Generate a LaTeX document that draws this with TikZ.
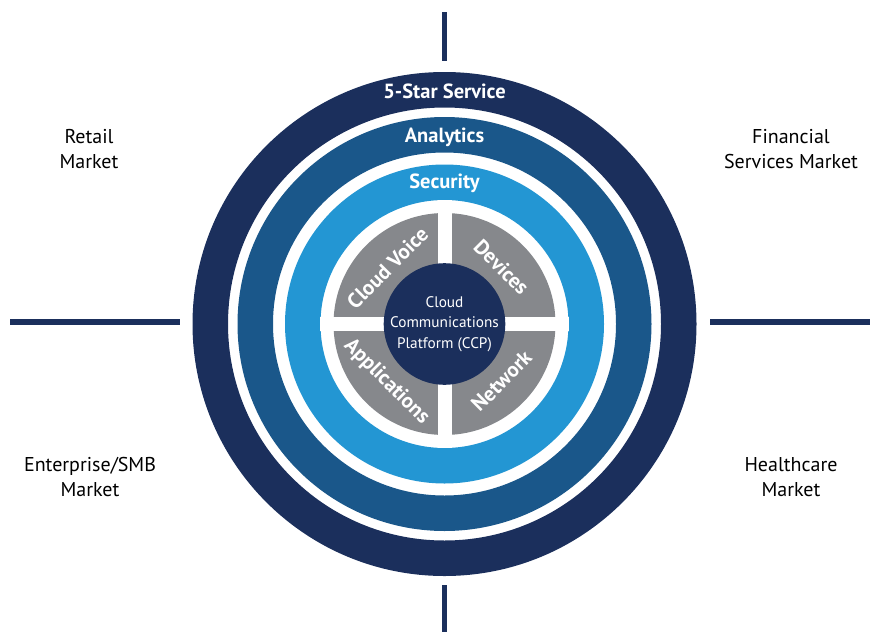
\documentclass[tikz,border=0pt]{standalone}
\usepackage{fontspec}
\setmainfont{PT Sans}
\definecolor{navy}{HTML}{1B2F5C}
\definecolor{analyticsblue}{HTML}{1A578A}
\definecolor{securityblue}{HTML}{2396D3}
\definecolor{quadgrey}{HTML}{86888C}
\tikzset{
  ringlabel/.style={text=white, font=\bfseries\fontsize{20.5}{22}\selectfont},
  quadlabel/.style={text=white, inner sep=1pt, font=\bfseries\fontsize{21}{22}\selectfont},
  marketlabel/.style={align=center, font=\fontsize{20}{24.5}\selectfont},
  divider/.style={navy, line width=5.5pt},
}
\begin{document}
\begin{tikzpicture}[x=1pt, y=-1pt]
    \useasboundingbox (0,0) rectangle (870,632);
    \coordinate (c) at (444.5,324);

    % rings
    \fill[navy, even odd rule] (c) circle (252pt) circle (216.5pt);
    \fill[analyticsblue, even odd rule] (c) circle (207pt) circle (171.5pt);
    \fill[securityblue, even odd rule] (c) circle (159.5pt) circle (124pt);
    \node[ringlabel] (star) at (444.5,91) {5-Star Service};
    \node[ringlabel] (analytics) at (444.5,137) {Analytics};
    \node[ringlabel] (security) at (444.5,183) {Security};

    % quadrants
    \fill[quadgrey] (c) circle (111pt);
    \fill[white] (437.5,200) rectangle (451.5,448);
    \fill[white] (320,317) rectangle (569,331);
    \node[quadlabel, rotate=45] (voice) at ([shift={(-57,-56)}]c) {Cloud Voice};
    \node[quadlabel, rotate=-45] (devices) at ([shift={(57,-57)}]c) {Devices};
    \node[quadlabel, rotate=-45] (apps) at ([shift={(-58,58)}]c) {Applications};
    \node[quadlabel, rotate=45] (network) at ([shift={(57,57)}]c) {Network};
    \node[circle, fill=navy, minimum size=116pt, inner sep=0pt, text=white, align=center,
          font=\fontsize{15.3}{20.5}\selectfont] (ccp) at (c) {Cloud\\Communications\\Platform (CCP)};

    % dividers
    \coordinate (top0) at (444.5,12);   \coordinate (top1) at (444.5,61);
    \coordinate (bot0) at (444.5,585);  \coordinate (bot1) at (444.5,632);
    \coordinate (left0) at (10,322);    \coordinate (left1) at (180,322);
    \coordinate (right0) at (710,322);  \coordinate (right1) at (870,322);
    \draw[divider] (top0) -- (top1);
    \draw[divider] (bot0) -- (bot1);
    \draw[divider] (left0) -- (left1);
    \draw[divider] (right0) -- (right1);

    % markets
    \node[marketlabel] (retail) at (89,149) {Retail\\Market};
    \node[marketlabel] (financial) at (791,149) {Financial\\Services Market};
    \node[marketlabel] (enterprise) at (90,477) {Enterprise/SMB\\Market};
    \node[marketlabel] (health) at (791,477) {Healthcare\\Market};
\end{tikzpicture}
\end{document}
